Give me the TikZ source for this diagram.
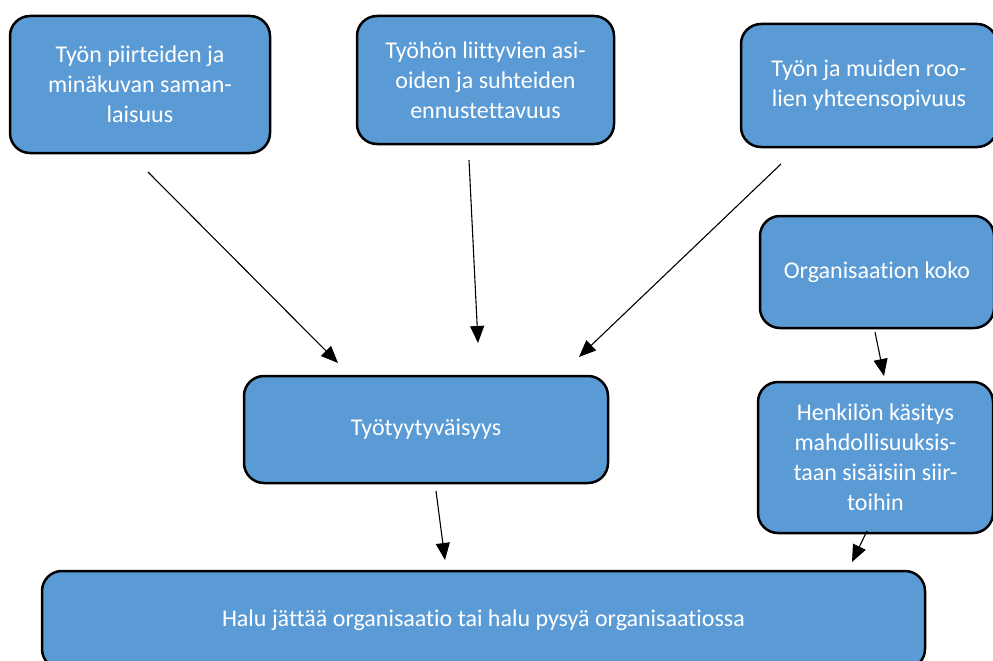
\documentclass[tikz,border=0pt]{standalone}
\usepackage{fontspec}
\setmainfont[Ligatures=NoCommon]{Carlito}
\usetikzlibrary{arrows.meta}
\definecolor{boxblue}{HTML}{5B9BD5}
\begin{document}
\begin{tikzpicture}[x=1pt,y=-1pt,
  box/.style={draw=black, line width=2.5pt, fill=boxblue, rounded corners=20pt,
    text=white, align=center, inner sep=0pt, anchor=center,
    font=\fontsize{24}{30}\selectfont},
  arr/.style={line width=1.1pt, -{Triangle[length=17pt,width=14pt]}}]
\useasboundingbox (0,0) rectangle (993,661);
\clip (0,0) rectangle (993,661);
\node[box, minimum width=260pt, minimum height=137pt] (b1) at (140,84.5)
  {Työn piirteiden ja\\minäkuvan saman-\\laisuus};
\node[box, minimum width=257pt, minimum height=128pt] (b2) at (485.5,80)
  {Työhön liittyvien asi-\\oiden ja suhteiden\\ennustettavuus};
\node[box, minimum width=256pt, minimum height=123pt] (b3) at (869,85.5)
  {Työn ja muiden roo-\\lien yhteensopivuus};
\node[box, minimum width=234pt, minimum height=112pt] (b4) at (877,272)
  {Organisaation koko};
\node[box, minimum width=235pt, minimum height=151pt] (b5) at (875.5,457.5)
  {Henkilön käsitys\\mahdollisuuksis-\\taan sisäisiin siir-\\toihin};
\node[box, minimum width=364pt, minimum height=107pt] (b6) at (426,429.5)
  {Työtyytyväisyys};
\node[box, minimum width=883pt, minimum height=98pt] (b7) at (483.5,620)
  {Halu jättää organisaatio tai halu pysyä organisaatiossa};
\coordinate (s1) at (148,172);
\coordinate (e1) at (338,363);
\coordinate (s2) at (469,160);
\coordinate (e2) at (478,343);
\coordinate (s3) at (781,164);
\coordinate (e3) at (579,357);
\coordinate (s4) at (875,332);
\coordinate (e4) at (884,376);
\coordinate (s5) at (436,491);
\coordinate (e5) at (445,560);
\coordinate (s6) at (867,531);
\coordinate (e6) at (852,562);
\draw[arr] (s1) -- (e1);
\draw[arr] (s2) -- (e2);
\draw[arr] (s3) -- (e3);
\draw[arr] (s4) -- (e4);
\draw[arr] (s5) -- (e5);
\draw[arr] (s6) -- (e6);
\end{tikzpicture}
\end{document}
